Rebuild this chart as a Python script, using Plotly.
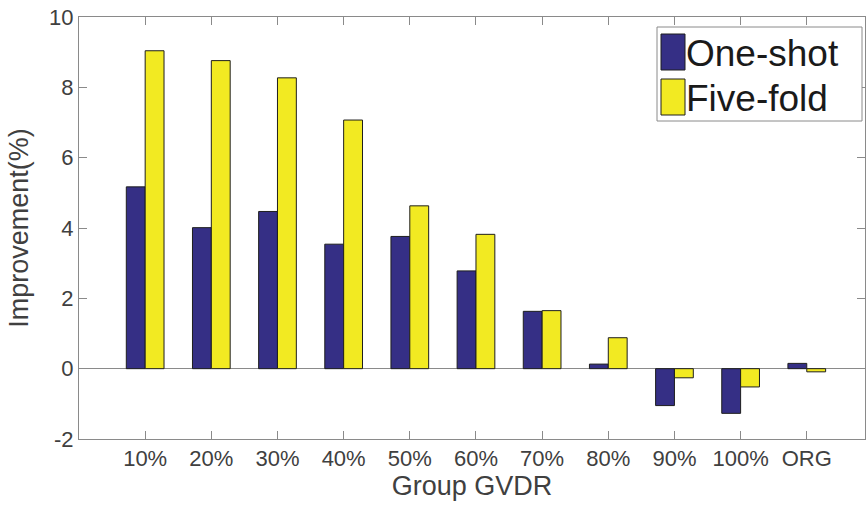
import plotly.graph_objects as go

categories = ["10%", "20%", "30%", "40%", "50%", "60%", "70%", "80%", "90%", "100%", "ORG"]
one_shot = [5.17, 4.01, 4.47, 3.54, 3.76, 2.78, 1.63, 0.13, -1.05, -1.27, 0.15]
five_fold = [9.04, 8.76, 8.27, 7.07, 4.63, 3.82, 1.65, 0.88, -0.26, -0.52, -0.09]
series_names = ["One-shot", "Five-fold"]
y_ticks = [-2, 0, 2, 4, 6, 8, 10]
y_tick_labels = ["-2", "0", "2", "4", "6", "8", "10"]

BLUE = "#352F85"
YELLOW = "#F2EA22"
AXIS = "#8A8A8A"
TEXT = "#404040"
FONT = "Liberation Sans, Arial, sans-serif"

W, H = 867, 511
ML, MR, MT, MB = 79, 2, 17, 72

x = list(range(1, len(categories) + 1))

fig = go.Figure()
fig.add_trace(go.Bar(x=x, y=one_shot, name=series_names[0], marker=dict(color=BLUE, line=dict(color="#1e1e1e", width=1))))
fig.add_trace(go.Bar(x=x, y=five_fold, name=series_names[1], marker=dict(color=YELLOW, line=dict(color="#1e1e1e", width=1))))

fig.update_layout(
    width=W, height=H,
    margin=dict(l=ML, r=MR, t=MT, b=MB),
    paper_bgcolor="white", plot_bgcolor="white",
    barmode="group", bargap=0.43, bargroupgap=0,
    showlegend=False,
    font=dict(family=FONT, color=TEXT, size=22),
)
fig.update_xaxes(
    range=[0, 11.88], tickvals=x, ticktext=categories, automargin=False,
    ticklabeloverflow="allow",
    showline=True, linecolor=AXIS, linewidth=1, mirror="ticks",
    ticks="inside", ticklen=8, tickcolor=AXIS, showgrid=False, zeroline=False,
    tickfont=dict(size=22, color=TEXT),
    title=dict(text="Group GVDR", font=dict(size=27, color=TEXT), standoff=5),
)
fig.update_yaxes(
    range=[-2, 10], tickvals=y_ticks, ticktext=y_tick_labels, automargin=False,
    ticklabeloverflow="allow",
    showline=True, linecolor=AXIS, linewidth=1, mirror="ticks",
    ticks="inside", ticklen=8, tickcolor=AXIS, showgrid=False,
    zeroline=True, zerolinecolor=AXIS, zerolinewidth=1,
    tickfont=dict(size=22, color=TEXT),
    title=dict(text="Improvement(%)", font=dict(size=27, color=TEXT), standoff=12),
)

# Legend drawn in MATLAB style (box, large swatches, large text); pixel -> plot-domain coords
PW, PH = W - ML - MR, H - MT - MB
def px(xp): return (xp - ML) / PW
def py(yp): return (H - MB - yp) / PH
lx0, lx1, ly0, ly1 = 657, 862, 27, 121
shapes = [dict(type="rect", xref="paper", yref="paper", x0=px(lx0), x1=px(lx1), y0=py(ly1), y1=py(ly0),
               line=dict(color=AXIS, width=1), fillcolor="white", layer="above")]
colors = [BLUE, YELLOW]
rows = [(34, 70), (79, 115)]
for (t, b), c, name in zip(rows, colors, series_names):
    shapes.append(dict(type="rect", xref="paper", yref="paper", x0=px(661), x1=px(685), y0=py(b), y1=py(t),
                       line=dict(color="#1e1e1e", width=1), fillcolor=c, layer="above"))
    fig.add_annotation(xref="paper", yref="paper", x=px(684), y=py((t + b) / 2 + 1), text=name,
                       showarrow=False, xanchor="left", yanchor="middle",
                       font=dict(size=37, color="#1a1a1a", family=FONT))
fig.update_layout(shapes=shapes)

fig.write_html("out.html", config={"displayModeBar": False},
               post_script="document.body.style.margin='0';document.body.style.padding='0';")
